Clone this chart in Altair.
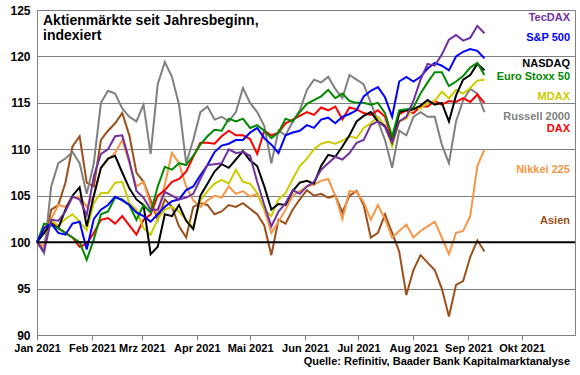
import altair as alt
import pandas as pd

FONT = "Liberation Sans, Arial, sans-serif"

# sampling dates: every 4 days from 1 Jan 2021 to 10 Sep 2021
dates = [(pd.Timestamp("2021-01-01") + pd.Timedelta(days=d)).strftime("%Y-%m-%d") for d in range(0, 253, 4)]

tecdax = [100, 99, 102.4, 102.3, 103.3, 104.9, 104.6, 102.9, 107.1, 109.5,
          110, 111.4, 111.5, 108.8, 105.5, 104.8, 103.5, 103.5, 105.4, 105,
          104.6, 104.8, 105.2, 106.8, 108.3, 108.4, 108.5, 110, 109.6, 109.7,
          109.3, 106.5, 104, 101.7, 103.3, 104.2, 105.6, 105.2, 106, 106.5,
          107.8, 108.5, 109.2, 108.9, 109.6, 110.7, 111, 112.6, 113, 112.4,
          110.7, 113, 113.5, 115.2, 117.5, 119.2, 119, 120.2, 121.8, 122.3,
          121.7, 122, 123.3, 122.5]
sp500 = [100, 101.5, 102, 101, 100.8, 102, 102.2, 99.2, 102.5, 103.5,
         104, 104.9, 104.5, 104, 103.2, 102.8, 102.2, 103, 103.8, 104.4,
         104.6, 105.6, 106, 107.2, 108.3, 109.7, 110.4, 110.6, 111, 111,
         111.8, 112.3, 111.2, 110.5, 109.6, 111.5, 111.8, 112, 112.6, 112.3,
         113.2, 113.4, 112.8, 113.5, 113.8, 114.2, 115.7, 116.3, 116.7, 115.6,
         113.5, 117.3, 117.8, 117.3, 117.8, 118.7, 119.3, 119, 118.5, 120,
         120.5, 120.8, 120.6, 119.8]
nasdaq = [100, 101, 102, 101.5, 103.5, 105, 105.9, 101.7, 105, 108,
          109, 109.3, 107.5, 105.8, 104.6, 104, 98.7, 99.5, 103, 102.8,
          104, 102.3, 101.4, 105, 106.3, 107.6, 108.4, 108, 108.9, 109.8,
          108.8, 108.2, 106, 103.5, 104.1, 104, 105.5, 106.4, 106.6, 106.3,
          108.2, 109.4, 109.2, 110.3, 111.5, 113, 113.6, 114, 113, 112.5,
          110.8, 114, 114.2, 114.3, 114.7, 115.3, 114.8, 115, 113, 115.8,
          117.5, 118, 119.2, 118.5]
eurostoxx = [100, 102, 101.8, 101.5, 101, 100.5, 100, 98.1, 100.3, 103,
             103.3, 104.8, 104.6, 104, 102.4, 104, 103.2, 106, 108.1, 107.8,
             108.5, 108.3, 109.3, 110.5, 111.4, 112.1, 112, 113.3, 113, 113.3,
             112.3, 112.6, 112, 111.2, 111.8, 113.3, 113, 114, 114.9, 115.3,
             115.7, 116.4, 115.5, 116, 115.2, 115, 115, 114.8, 115, 113.9,
             111.4, 114.2, 114.3, 114.5, 116, 117.2, 118.3, 118.3, 116.8, 117.3,
             117.9, 118.8, 119.3, 118]
mdax = [100, 101, 102.3, 101.8, 102.5, 103, 102.2, 101.3, 104.2, 105.3,
        105.3, 106.4, 106.5, 104.2, 103.5, 101.5, 100.8, 102.5, 103.5, 103.8,
        103.3, 102.4, 101.6, 104.5, 105.5, 106.3, 106.7, 106.3, 107.8, 106.5,
        106.3, 105.3, 103.5, 102.8, 104.6, 105.3, 106.8, 108.2, 109, 110,
        110.6, 110.8, 110.6, 110.9, 111.4, 111.2, 112.3, 112.8, 113.5, 112.5,
        110.3, 113, 113.3, 114.5, 114.4, 115, 115.2, 116.2, 115.5, 116.4,
        116, 116.6, 117.4, 117.5]
russell = [100, 98.8, 106, 108.5, 109, 109.7, 108.5, 105.2, 108.5, 115,
           116.3, 116, 114.4, 113.5, 113, 114.8, 109.5, 117, 119.4, 117.8,
           114.8, 108.5, 111, 114, 114.6, 113.2, 113.5, 113, 114, 116.6,
           115, 114, 112.5, 108.5, 112, 111.5, 113, 114.2, 116.4, 117.5,
           117.2, 117.8, 116.5, 115.5, 118, 117.5, 117, 115, 113, 111,
           108, 112, 111.5, 113.5, 114, 113.5, 113.5, 110.5, 108.5, 113,
           115.3, 116.5, 116, 114]
dax = [100, 101.5, 102.2, 101.5, 101, 100.5, 99.5, 99.8, 101, 102.4,
       102.6, 102, 102.8, 101.8, 100.8, 102.4, 103, 105, 105.6, 106.5,
       106.8, 107.6, 109.2, 110.7, 110.7, 110.6, 111.4, 112, 111.5, 111.5,
       111.1, 109.5, 112, 111.5, 111.8, 112.8, 113.2, 113.6, 114, 113.7,
       114.5, 114.2, 114.6, 113.2, 114.5, 114.3, 113.9, 113.7, 114.2, 113.5,
       111, 113.8, 114.2, 113.9, 114.6, 114.6, 115.2, 114.8, 115.2, 115.1,
       115.5, 115.1, 115.9, 115]
nikkei = [100, 99.5, 102.5, 104, 103.8, 104.8, 104.9, 103.8, 105, 108,
          108.9, 109.6, 111, 108.5, 106, 106.5, 104, 103, 106.2, 109.6,
          108.5, 106, 104.5, 103.8, 104.5, 105, 104.8, 106, 105.2, 105.5,
          104.9, 105.2, 103.5, 101, 102.2, 103.5, 105, 105.5, 106, 106.2,
          106.6, 106.8, 105, 102.5, 105.5, 105.4, 104.3, 102.4, 104, 102.5,
          100.5, 101.2, 101.9, 100.5, 101.2, 101.7, 102.2, 100.5, 98.7, 101,
          101.2, 102.8, 108.2, 110]
asien = [100, 99.5, 103.5, 104, 106.4, 110.3, 111.4, 106.4, 106, 111,
         112, 112.8, 113.9, 111.5, 107.5, 106.5, 104.5, 102.4, 104.6, 103.8,
         101.7, 100.5, 103.8, 104.2, 104, 103, 103.3, 104, 103.8, 104.2,
         103.6, 103, 101.8, 98.6, 102.4, 102, 103.5, 104.6, 105.6, 105,
         105.2, 104.8, 105, 103.2, 105, 105.5, 104, 100.5, 101, 103,
         101, 99, 94.3, 97, 98.6, 97.8, 97, 95, 92, 95.4,
         95.8, 98.4, 100.2, 99]

names = ["TecDAX", "S&P 500", "NASDAQ", "Euro Stoxx 50", "MDAX",
         "Russell 2000", "DAX", "Nikkei 225", "Asien"]
colors = ["#7030A0", "#0000FF", "#000000", "#008A00", "#CCCC00",
          "#808080", "#FF0000", "#F79646", "#9C4F1A"]
label_y = [124.1, 122.0, 119.2, 117.8, 115.6, 113.5, 112.2, 107.8, 102.3]

# draw order (back to front)
draw = [("Asien", asien), ("Nikkei 225", nikkei), ("Russell 2000", russell),
        ("DAX", dax), ("MDAX", mdax), ("NASDAQ", nasdaq),
        ("Euro Stoxx 50", eurostoxx), ("S&P 500", sp500), ("TecDAX", tecdax)]

rows = []
for order, (nm, vals) in enumerate(draw):
    for d, v in zip(dates, vals):
        rows.append({"date": d, "value": v, "series": nm, "ord": order})
df = pd.DataFrame(rows)

labels_df = pd.DataFrame({"name": names, "y": label_y})

def ms(s):
    return int(pd.Timestamp(s, tz="UTC").value // 10**6)

t0, t1 = ms("2021-01-01"), ms("2021-10-31")
month_ticks = [ms(f"2021-{m:02d}-01") for m in range(1, 11)]
month_expr = ("['Jan','Feb','Mrz','Apr','Mai','Jun','Jul','Aug','Sep','Okt','Nov','Dez']"
              "[utcmonth(datum.value)] + ' ' + utcyear(datum.value)")

color_scale = alt.Scale(domain=names, range=colors)
y_scale = alt.Scale(domain=[90, 125], nice=False, zero=False)

x_enc = alt.X("date:T", scale=alt.Scale(type="utc", domain=[t0, t1]),
              axis=alt.Axis(values=month_ticks, labelExpr=month_expr, title=None,
                            grid=False, ticks=True, tickSize=5, tickColor="#808080",
                            domainColor="#808080", labelFont=FONT, labelFontSize=11,
                            labelFontWeight="bold", labelColor="black", labelPadding=2,
                            labelOverlap=False, labelFlush=False))
y_enc = alt.Y("value:Q", scale=y_scale,
              axis=alt.Axis(values=[90, 95, 100, 105, 110, 115, 120, 125], title=None,
                            grid=True, gridColor="#808080", gridWidth=1, ticks=False,
                            domainColor="#808080", labelFont=FONT, labelFontSize=12,
                            labelFontWeight="bold", labelColor="black", labelPadding=7))

lines = alt.Chart(df).mark_line(strokeWidth=2).encode(
    x=x_enc, y=y_enc,
    color=alt.Color("series:N", scale=color_scale, legend=None),
    order=alt.Order("ord:Q"),
)

rule100 = alt.Chart(pd.DataFrame({"v": [100]})).mark_rule(color="black", strokeWidth=2).encode(
    y=alt.Y("v:Q", scale=y_scale)
)

labels = alt.Chart(labels_df).mark_text(align="right", baseline="middle", font=FONT,
                                        fontSize=11, fontWeight="bold").encode(
    x=alt.value(533),
    y=alt.Y("y:Q", scale=y_scale),
    text="name:N",
    color=alt.Color("name:N", scale=color_scale, legend=None),
)

title = alt.Chart(pd.DataFrame({"a": [0]})).mark_text(
    align="left", baseline="alphabetic", font=FONT, fontSize=14, fontWeight="bold",
    lineHeight=15, color="black", text=["Aktienmärkte seit Jahresbeginn,", "indexiert"]
).encode(x=alt.value(6), y=alt.value(15))

source = alt.Chart(pd.DataFrame({"a": [0]})).mark_text(
    align="right", baseline="middle", font=FONT, fontSize=11, fontWeight="bold",
    color="black", text="Quelle: Refinitiv, Baader Bank Kapitalmarktanalyse"
).encode(x=alt.value(533), y=alt.value(352))

chart = alt.layer(lines, rule100, labels, title, source).properties(
    width=538, height=325,
    autosize=alt.AutoSizeParams(type="none"),
    padding={"left": 37, "top": 10, "right": 5, "bottom": 40},
    background="white",
).configure_view(stroke="#808080", strokeWidth=1)

chart.save("out.html", embed_options={"renderer": "svg", "actions": False})
